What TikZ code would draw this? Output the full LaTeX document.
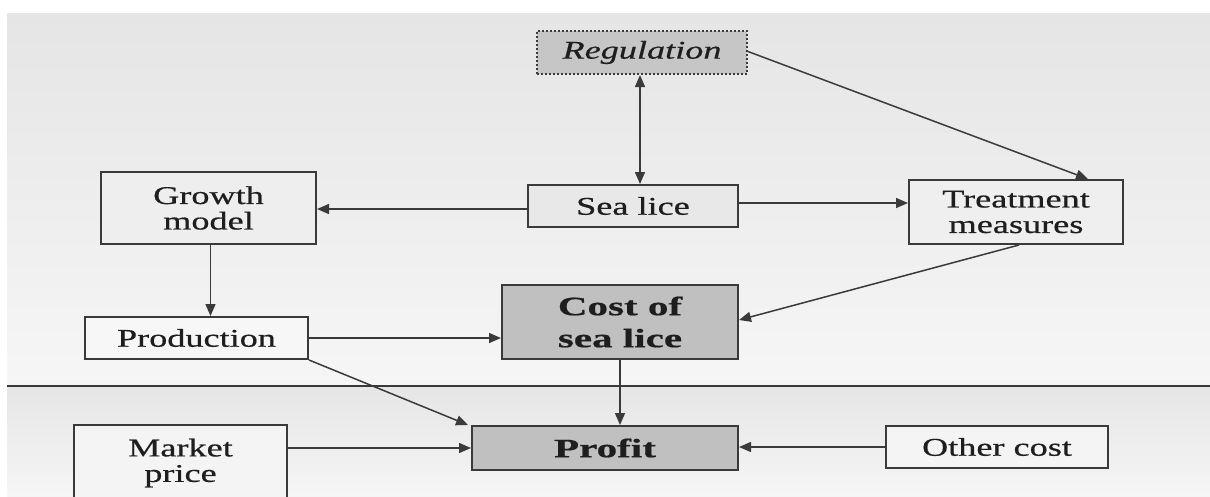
\documentclass[tikz,border=0pt]{standalone}
\usepackage{fontspec}
\setmainfont{Liberation Serif}[FakeStretch=1.42,FakeBold=0.6]
\newfontfamily\boldfam{Liberation Serif}[FakeStretch=1.55,FakeBold=0.6]
\usetikzlibrary{arrows.meta}
\definecolor{edge}{HTML}{3A3A3A}
\definecolor{txt}{HTML}{1E1E1E}
\definecolor{darkfill}{HTML}{C0C0C0}
\tikzset{
  box/.style={draw=edge, line width=2pt, rectangle, inner sep=0pt, align=center,
    text=txt, font=\fontsize{25.5}{25.5}\selectfont},
  bigbox/.style={box, fill=darkfill, font=\boldfam\bfseries\fontsize{26.5}{32}\selectfont},
  arr/.style={draw=edge, line width=1.5pt, -{Triangle[length=12pt,width=10pt]}},
  darr/.style={draw=edge, line width=1.5pt, {Triangle[length=12pt,width=10pt]}-{Triangle[length=12pt,width=10pt]}},
}
\begin{document}
\begin{tikzpicture}[x=1pt,y=-1pt]
\useasboundingbox (0,0) rectangle (1210,496);
\clip (0,0) rectangle (1210,496);
\fill[white] (0,0) rectangle (1210,496);
\shade[top color={rgb,255:red,229;green,229;blue,229}, bottom color={rgb,255:red,246;green,246;blue,246}] (7,13) rectangle (1210,386);
\shade[top color={rgb,255:red,230;green,230;blue,230}, bottom color={rgb,255:red,245;green,245;blue,245}] (7,386) rectangle (1210,496);
\draw[edge, line width=2.5pt] (7,386) -- (1210,386);

\node[box, fill={rgb,255:red,198;green,198;blue,198}, dotted, minimum width=210pt, minimum height=43pt] (reg) at (642,52.5) {\itshape Regulation};
\node[box, fill={rgb,255:red,238;green,238;blue,238}, minimum width=215pt, minimum height=72pt] (growth) at (208.5,208) {Growth\\model};
\node[box, fill={rgb,255:red,232;green,232;blue,232}, minimum width=210pt, minimum height=42pt] (sea) at (633,206) {Sea lice};
\node[box, fill={rgb,255:red,239;green,239;blue,239}, minimum width=214pt, minimum height=64pt] (treat) at (1016,212) {Treatment\\measures};
\node[box, fill={rgb,255:red,247;green,247;blue,247}, minimum width=223pt, minimum height=42pt] (prod) at (196.5,338) {Production};
\node[bigbox, minimum width=236pt, minimum height=74pt] (cost) at (620,322) {Cost of\\sea lice};
\node[bigbox, minimum width=266pt, minimum height=44pt] (profit) at (605,448) {Profit};
\node[box, fill={rgb,255:red,244;green,244;blue,244}, minimum width=213pt, minimum height=76pt] (market) at (180.5,463) {Market\\price};
\node[box, fill={rgb,255:red,244;green,244;blue,244}, minimum width=222pt, minimum height=42pt] (other) at (997,447) {Other cost};

\draw[darr] ([xshift=-2pt]reg.south) -- ([xshift=7pt]sea.north);
\draw[arr] ([yshift=1pt]reg.east) -- ([xshift=72pt]treat.north);
\draw[arr] ([yshift=-3pt]sea.west) -- ([yshift=-3pt]sea.west -| growth.east);
\draw[arr] ([yshift=3pt]sea.east) -- ([yshift=3pt]sea.east -| treat.west);
\draw[arr] ([xshift=2pt]growth.south) -- ([xshift=2pt]growth.south |- prod.north);
\draw[arr] (prod.east) -- (prod.east -| cost.west);
\draw[arr] ([xshift=3pt]treat.south) -- ([yshift=2pt]cost.east);
\draw[arr] (prod.south east) -- ([xshift=-3pt]profit.north west);
\draw[arr] (cost.south) -- (cost.south |- profit.north);
\draw[arr] (profit.west -| market.east) -- (profit.west);
\draw[arr] (other.west) -- (other.west -| profit.east);
\end{tikzpicture}
\end{document}
